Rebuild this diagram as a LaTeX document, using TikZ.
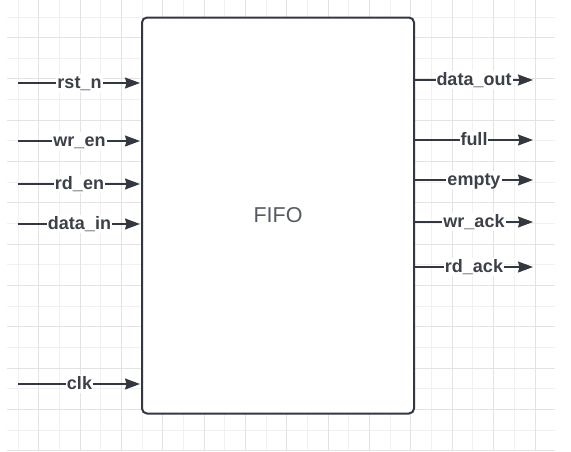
\documentclass[tikz,border=0pt]{standalone}
\usepackage{fontspec}
\setmainfont{Liberation Sans}
\usetikzlibrary{calc,arrows.meta}
\definecolor{wire}{HTML}{333840}
\definecolor{sigtext}{HTML}{3C4048}
\definecolor{gridminor}{HTML}{F1F1F1}
\definecolor{gridmajor}{HTML}{E3E3E3}
\definecolor{boxtext}{HTML}{555A62}
\tikzset{
    port/.style={draw=wire, line width=1.3pt, -{Stealth[length=15pt,width=11pt,inset=1.5pt]}},
    sig/.style={fill=white, text=sigtext, inner sep=1pt, text height=13pt, text depth=3pt,
        font=\bfseries\fontsize{18}{20}\selectfont},
    gridline/.style={draw=gridminor, line width=1pt},
    gridbold/.style={draw=gridmajor, line width=1pt}
}

\begin{document}
\begin{tikzpicture}[x=1pt,y=-1pt]
        \useasboundingbox (0,0) rectangle (571,451);
        % background grid
        \foreach \k in {0,...,21}
        \draw[gridline] (7,{17+20.65*\k}) -- (555,{17+20.65*\k});
        \foreach \k in {0,...,25}
        \draw[gridline] ({18+20.68*\k},0) -- ({18+20.68*\k},451);
        \foreach \k in {1,3,...,21}
        \draw[gridbold] (7,{17+20.65*\k}) -- (555,{17+20.65*\k});
        \foreach \k in {1,3,...,25}
        \draw[gridbold] ({18+20.68*\k},0) -- ({18+20.68*\k},451);
        % the block
        \node[draw=wire, line width=2pt, rounded corners=5pt, fill=white,
            minimum width=272pt, minimum height=396pt, text=boxtext,
            font=\fontsize{21.5}{24}\selectfont] (fifo) at (278,215.5) {FIFO};
        % inputs
        \foreach \lbl/\y in {rst\_n/83, wr\_en/141, rd\_en/184, data\_in/224, clk/384}
        {
        \coordinate (in-\y) at (18,\y);
        \draw[port, shorten >=1pt] (in-\y) -- (fifo.west |- in-\y)
            node[sig, midway] (lbl-in-\y) {\lbl};
        }
        % outputs
        \foreach \lbl/\y in {data\_out/80, full/140, empty/180, wr\_ack/222, rd\_ack/267}
        {
        \coordinate (out-\y) at (533,\y);
        \draw[port] (fifo.east |- out-\y) -- (out-\y)
            node[sig, midway] (lbl-out-\y) {\lbl};
        }
    \end{tikzpicture}
\end{document}
